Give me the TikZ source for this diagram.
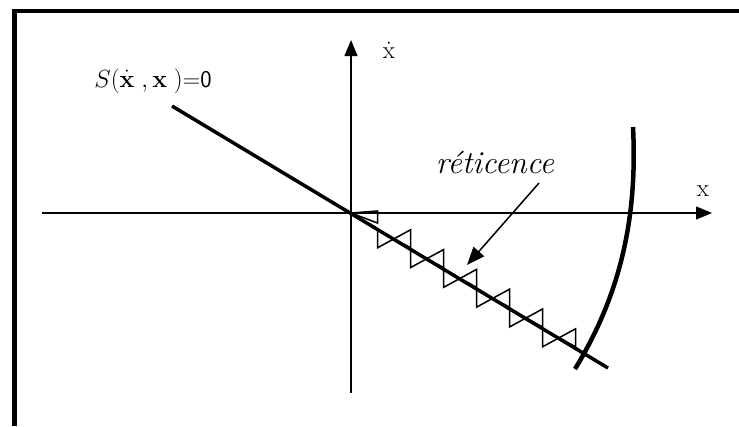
\documentclass[tikz,border=0pt]{standalone}
\usepackage{amsmath}
\usetikzlibrary{arrows.meta}

\begin{document}
\begin{tikzpicture}[x=1pt, y=-1pt, >={Triangle[length=16pt, width=13pt]}]
    \useasboundingbox (0,0) rectangle (739,426);
    % 滑模面斜率
    \def\m{0.6}

    % 边框(上边和左边)
    \draw[line width=4.5pt] (14.5,426) -- (14.5,11) -- (739,11);

    % 坐标点
    \coordinate (O)  at (351,213);
    \coordinate (xl) at (42,213);
    \coordinate (xr) at (712,213);
    \coordinate (yb) at (351,393);
    \coordinate (yt) at (351,40);

    % 画坐标轴
    \draw[line width=1.3pt, ->] (xl) -- (xr);
    \draw[line width=1.3pt, ->] (yb) -- (yt);
    \node (xlab) at (703,191) {\Huge $\mathrm{x}$};
    \node (dxlab) at (389,50) {\Huge $\dot{\mathrm{x}}$};

    % 滑模面 S = 0
    \coordinate (s1) at (172,106);
    \coordinate (s2) at (608,368);
    \draw[line width=3.5pt] (s1) -- (s2);
    \node (slab) at (153,81) {\fontsize{24}{28}\selectfont $S(\dot{\mathbf{x}}\;,\mathbf{x}\;)$\textsf{=0}};

    % 抖振(蝴蝶结形三角)
    \draw[line width=1.5pt] (O) -- (377.5,211) -- (377.5,223) -- cycle;
    \foreach \k in {0,...,5} {
        \pgfmathsetmacro{\cx}{394+33*\k}
        \pgfmathsetmacro{\cy}{213+\m*(\cx-351)}
        \draw[line width=1.5pt] (\cx,\cy) -- (\cx-16.5,\cy-9) -- (\cx-16.5,\cy+9) -- cycle;
        \draw[line width=1.5pt] (\cx,\cy) -- (\cx+16.5,\cy-9) -- (\cx+16.5,\cy+9) -- cycle;
    }

    % 轨迹曲线
    \coordinate (c1) at (633,127);
    \coordinate (c2) at (575,369);
    \draw[line width=4.5pt] (c1) .. controls (638,225) and (617,300) .. (c2);

    % 标注 réticence
    \node (ret) at (495,163) {\fontsize{32}{36}\selectfont\itshape réticence};
    \coordinate (a1) at (539,183);
    \coordinate (a2) at (467,265);
    \draw[line width=1.5pt, -{Triangle[length=18pt, width=14pt]}] (a1) -- (a2);
\end{tikzpicture}
\end{document}
